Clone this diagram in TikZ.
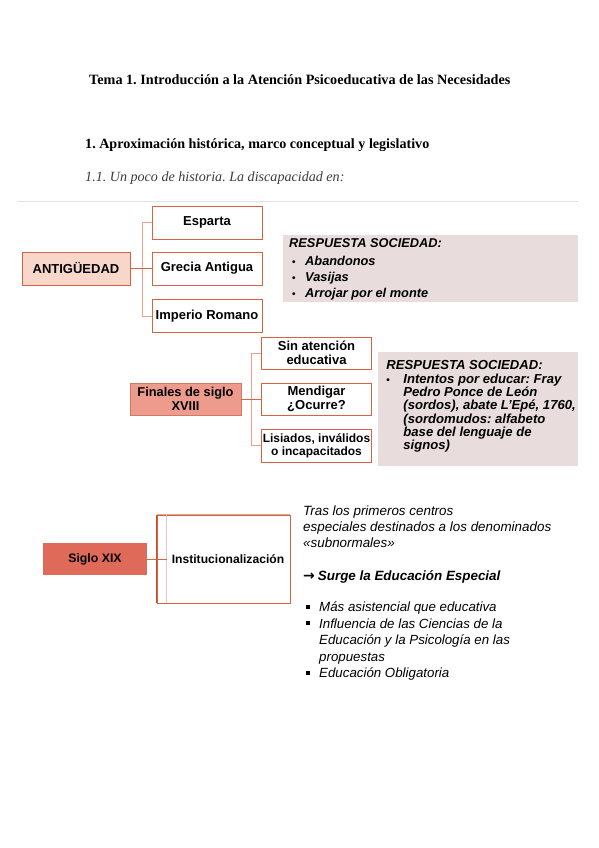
\documentclass[tikz,border=0pt]{standalone}
\usepackage{fontspec}
\setmainfont{Liberation Serif}
\setsansfont{Liberation Sans}
\newfontfamily\arrowfont{DejaVu Sans}
\usepackage{tikz}
\usetikzlibrary{calc}
\definecolor{salmon}{RGB}{218,98,66}
\definecolor{salmonlight}{RGB}{233,160,140}
\definecolor{peach}{RGB}{248,215,202}
\definecolor{coral}{RGB}{236,155,141}
\definecolor{coraledge}{RGB}{216,117,99}
\definecolor{brick}{RGB}{224,106,90}
\definecolor{rust}{RGB}{204,74,36}
\definecolor{mist}{RGB}{232,220,220}
\definecolor{rulegray}{RGB}{225,225,225}
\definecolor{subgray}{RGB}{60,60,60}
\newcommand{\dotitem}{\makebox[0pt][l]{\fontsize{10}{10}\selectfont\upshape\bfseries •}}
\newcommand{\squareitem}{\rule[3pt]{3.6pt}{3.6pt}}
\frenchspacing

\begin{document}
\begin{tikzpicture}[x=1pt, y=-1pt,
    box/.style={rectangle, draw=salmon, fill=white, line width=0.8pt, minimum width=110pt, minimum height=33pt, inner sep=1pt, align=center, font=\sffamily\bfseries\fontsize{13}{14}\selectfont},
    era/.style={box, fill=peach, minimum width=108pt},
    eramid/.style={box, draw=coraledge, fill=coral, minimum width=111pt, minimum height=32pt, font=\sffamily\bfseries\fontsize{12.8}{13.5}\selectfont},
    eralate/.style={box, draw=none, fill=brick, minimum width=104pt, minimum height=32pt, font=\sffamily\bfseries\fontsize{12.3}{13}\selectfont},
    answer/.style={rectangle, fill=mist, inner sep=0pt, anchor=north west},
    stub/.style={draw=salmon, line width=0.8pt},
    branch/.style={draw=salmonlight, line width=0.8pt}]

\useasboundingbox (0,0) rectangle (599,848);
\fill[white] (0,0) rectangle (599,848);

\node [anchor=west, inner sep=0pt, font=\bfseries\fontsize{14.2}{16}\selectfont] (title) at (89,80) {Tema 1. Introducción a la Atención Psicoeducativa de las Necesidades};
\node [anchor=west, inner sep=0pt, font=\bfseries\fontsize{14.1}{16}\selectfont] (section) at (85,145) {1. Aproximación histórica, marco conceptual y legislativo};
\node [anchor=west, inner sep=0pt, text=subgray, font=\itshape\fontsize{14.1}{16}\selectfont] (subsection) at (85,178) {1.1. Un poco de historia. La discapacidad en:};
\draw [rulegray, line width=1pt] (17,201) -- (578,201);

\node [era] (antiguedad) at (76,268.5) {ANTIGÜEDAD};
\node [box] (esparta) at (207,222.5) {Esparta};
\node [box] (grecia) at (207,268.5) {Grecia Antigua};
\node [box] (imperio) at (207,316) {Imperio Romano};
\coordinate (forka) at (142,268.5);

\draw [stub] (antiguedad.east) -- (forka);
\draw [branch] (esparta.west) -| (forka);
\draw [branch] (imperio.west) -| (forka);
\draw [stub] (forka) -- (grecia.west);

\node [answer] (answera) at (283,235) {\parbox[t][67pt][t]{295pt}{\sffamily\bfseries\itshape\fontsize{12.8}{16}\selectfont\raggedright
\vspace*{3pt}\hspace*{6pt}RESPUESTA SOCIEDAD:\\[2pt]
\hspace*{9pt}\dotitem\hspace*{13pt}Abandonos\\
\hspace*{9pt}\dotitem\hspace*{13pt}Vasijas\\
\hspace*{9pt}\dotitem\hspace*{13pt}Arrojar por el monte}};

\node [eramid] (finales) at (185.5,399) {Finales de siglo\\XVIII};
\node [box, minimum height=32pt] (sin) at (316.5,353) {Sin atención\\educativa};
\node [box, minimum height=32pt] (mendigar) at (316.5,399) {Mendigar\\¿Ocurre?};
\node [box, font=\sffamily\bfseries\fontsize{12}{13}\selectfont] (lisiados) at (316.5,445.5) {Lisiados, inválidos\\o incapacitados};
\coordinate (forkb) at (251,399);

\draw [stub] (finales.east) -- (forkb);
\draw [branch] (sin.west) -| (forkb);
\draw [branch] (lisiados.west) -| (forkb);
\draw [stub] (forkb) -- (mendigar.west);

\node [answer, minimum width=200pt] (answerb) at (378,352) {\parbox[t][114pt][t]{197.5pt}{\sffamily\bfseries\itshape\fontsize{13.1}{13.3}\selectfont\raggedright\leftskip=7pt
\vspace*{8.5pt}RESPUESTA SOCIEDAD:\par
\noindent\hangindent=17pt\hangafter=1\dotitem\hspace*{17pt}Intentos por educar: Fray Pedro Ponce de León (sordos), abate L'Epé, 1760, (sordomudos: alfabeto base del lenguaje de signos)\par}};

\node [eralate] (siglo) at (95,559) {Siglo XIX};
\node [box, minimum width=133pt, minimum height=88pt, font=\sffamily\bfseries\fontsize{12.1}{13}\selectfont] (inst) at (223.5,559) {\hspace*{9pt}Institucionalización};
\coordinate (instbar) at ($(inst.west)+(10,0)$);
\draw [salmonlight!60, line width=0.8pt] ($(inst.north west)+(10,0.5)$) -- ($(inst.south west)+(10,-0.5)$);
\draw [salmonlight, line width=0.8pt] (inst.north west) -- (inst.north east);
\draw [rust, line width=1pt] (inst.north west) -- (inst.south west);
\draw [stub] (siglo.east) -- (instbar);

\node [anchor=base west, inner sep=0pt] (notes) at (303,515.5) {\parbox[t]{285pt}{\sffamily\itshape\fontsize{13.4}{16}\selectfont\raggedright
Tras los primeros centros\\
especiales destinados a los denominados\\
«subnormales»\\[17pt]
{\arrowfont\bfseries\upshape\fontsize{14}{16}\selectfont →}\hspace{3pt}\textbf{Surge la Educación Especial}}};

\node [anchor=base west, inner sep=0pt] (list) at (305,611.5) {\parbox[t]{245pt}{\sffamily\itshape\fontsize{13.3}{16.5}\selectfont\raggedright\leftskip=1pt
\noindent\hangindent=13pt\hangafter=1\makebox[13pt][l]{\squareitem}Más asistencial que educativa\par
\noindent\hangindent=13pt\hangafter=1\makebox[13pt][l]{\squareitem}Influencia de las Ciencias de la Educación y la Psicología en las propuestas\par
\noindent\hangindent=13pt\hangafter=1\makebox[13pt][l]{\squareitem}Educación Obligatoria\par}};

\end{tikzpicture}
\end{document}
